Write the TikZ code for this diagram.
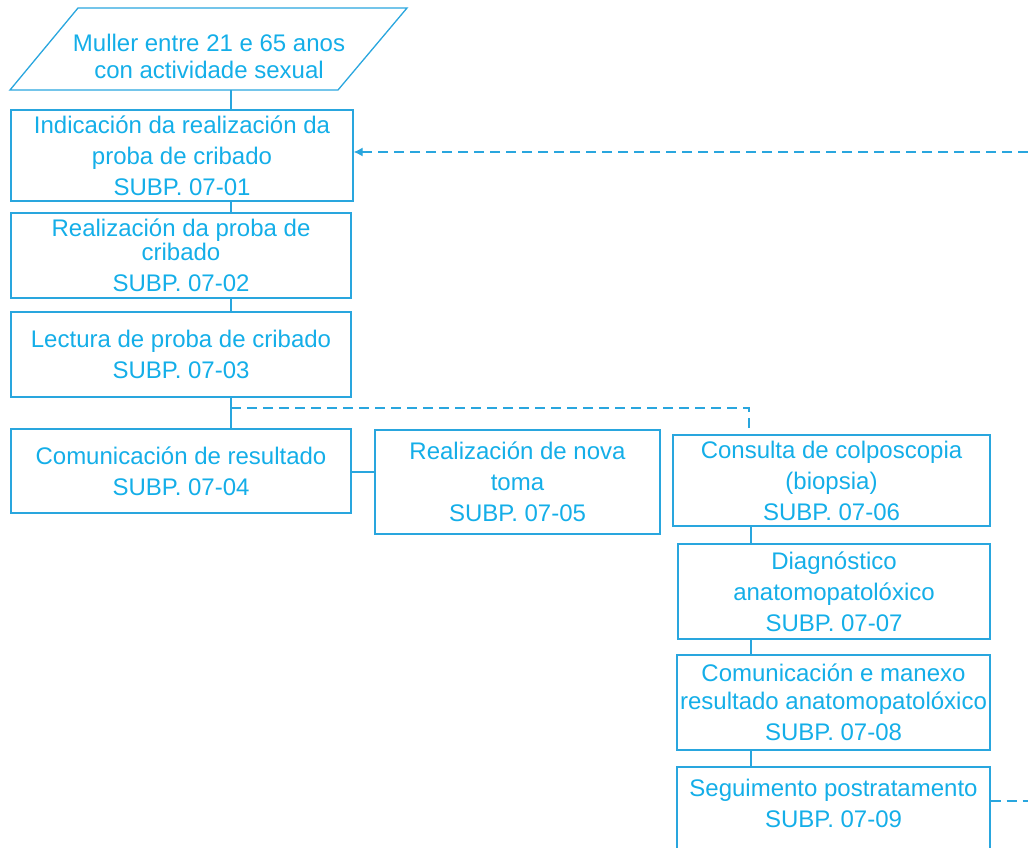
\documentclass[tikz,border=0pt]{standalone}
\usepackage{fontspec}
\setmainfont{Liberation Sans}
\usetikzlibrary{arrows.meta}
\definecolor{textc}{RGB}{20,174,232}
\definecolor{linec}{RGB}{41,166,222}
\tikzset{
  box/.style={draw=linec, line width=1.3pt, rectangle, text=textc, align=center, inner sep=0pt, font=\fontsize{24}{31}\selectfont},
  conn/.style={draw=linec, line width=1.3pt},
  dconn/.style={draw=linec, line width=1.3pt, dash pattern=on 10pt off 6pt},
}
\begin{document}
\begin{tikzpicture}[x=1pt,y=-1pt]
\useasboundingbox (0,0) rectangle (1028,847);
\clip (0,0) rectangle (1028,847);
% parallelogram
\coordinate (pa) at (78,8);
\coordinate (pbb) at (407,8);
\coordinate (pc) at (338,90);
\coordinate (pd) at (10,90);
\draw[conn] (pa) -- (pbb) -- (pc) -- (pd) -- cycle;
\node[text=textc, align=center, inner sep=0pt, font=\fontsize{24}{31}\selectfont] (p) at (209,56) {Muller entre 21 e 65 anos\\[-4pt]con actividade sexual};
% boxes
\node[box, minimum width=342pt, minimum height=91pt] (b1) at (182,155.5) {Indicación da realización da\\proba de cribado\\SUBP. 07-01};
\node[box, minimum width=340pt, minimum height=85pt] (b2) at (181,255.5) {Realización da proba de\\[-7pt]cribado\\SUBP. 07-02};
\node[box, minimum width=340pt, minimum height=85pt] (b3) at (181,354.5) {Lectura de proba de cribado\\SUBP. 07-03};
\node[box, minimum width=340pt, minimum height=84pt] (b4) at (181,471) {Comunicación de resultado\\SUBP. 07-04};
\node[box, minimum width=285pt, minimum height=104pt] (b5) at (517.5,482) {Realización de nova\\toma\\SUBP. 07-05};
\node[box, minimum width=317pt, minimum height=91pt] (b6) at (831.5,480.5) {Consulta de colposcopia\\(biopsia)\\SUBP. 07-06};
\node[box, minimum width=312pt, minimum height=95pt] (b7) at (834,591.5) {Diagnóstico\\anatomopatolóxico\\SUBP. 07-07};
\node[box, minimum width=313pt, minimum height=95pt] (b8) at (833.5,702.5) {Comunicación e manexo\\[-3pt]resultado anatomopatolóxico\\SUBP. 07-08};
\node[box, minimum width=313pt, minimum height=103pt] (b9) at (833.5,818.5) {Seguimento postratamento\\SUBP. 07-09\\\phantom{S}};
% connectors
\coordinate (v) at (231,0);
\coordinate (w) at (751,0);
\coordinate (w6) at (749,0);
\draw[conn] (v |- pd) -- (v |- b1.north);
\draw[conn] (v |- b1.south) -- (v |- b2.north);
\draw[conn] (v |- b2.south) -- (v |- b3.north);
\draw[conn] (v |- b3.south) -- (v |- b4.north);
\draw[conn] (b4.east |- 0,472) -- (b5.west |- 0,472);
\coordinate (d1) at (231,408);
\draw[dconn] (d1) -| (w6 |- b6.north);
\draw[conn] (w |- b6.south) -- (w |- b7.north);
\draw[conn] (w |- b7.south) -- (w |- b8.north);
\draw[conn] (w |- b8.south) -- (w |- b9.north);
\coordinate (r1) at (1028,152);
\draw[dconn, -{Latex[length=9pt,width=9pt]}] (r1) -- (r1 -| b1.east);
\coordinate (r2) at (1028,801);
\draw[dconn] (r2 -| b9.east) -- (r2);
\end{tikzpicture}
\end{document}
